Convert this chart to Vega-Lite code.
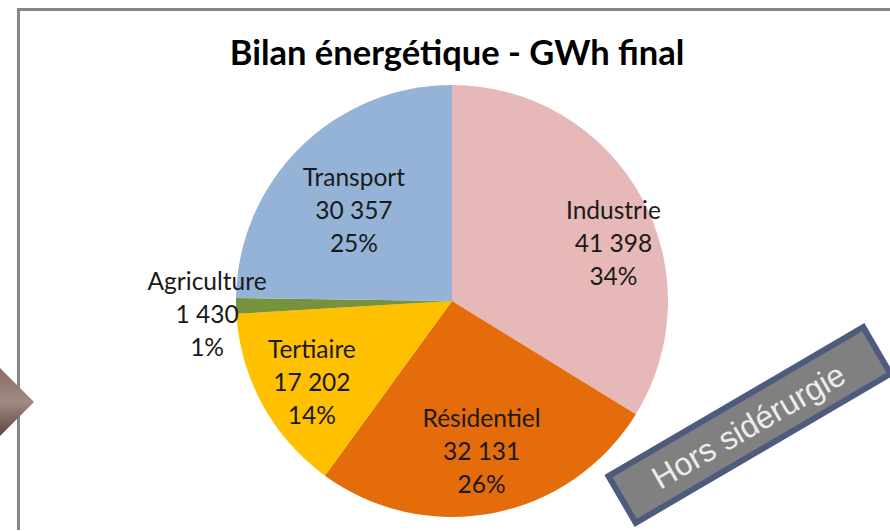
{
"$schema":"https://vega.github.io/schema/vega-lite/v6.json",
"width":876,"height":432,"autosize":"none",
"padding":{"left":14,"top":85,"right":0,"bottom":14},
"background":"white",
"view":{"stroke":null},
"config":{"view":{"stroke":null}},
"title":{"text":"Bilan énergétique - GWh final","font":"Lato","fontWeight":"bold","fontSize":34.5,"color":"#000000","anchor":"middle","frame":"group","dx":5,"offset":-66},
"data":{"name":"energy","values":[
{"rank":1,"secteur":"Industrie","gwh":41398,"label":"Industrie\n41 398\n34%"},
{"rank":2,"secteur":"Résidentiel","gwh":32131,"label":"Résidentiel\n32 131\n26%"},
{"rank":3,"secteur":"Tertiaire","gwh":17202,"label":"Tertiaire\n17 202\n14%"},
{"rank":4,"secteur":"Agriculture","gwh":1430,"label":"Agriculture\n1 430\n1%"},
{"rank":5,"secteur":"Transport","gwh":30357,"label":"Transport\n30 357\n25%"}
]},
"encoding":{
"x":{"type":"quantitative","scale":{"domain":[14,890],"zero":false,"nice":false},"axis":null},
"y":{"type":"quantitative","scale":{"domain":[517,85],"zero":false,"nice":false},"axis":null}
},
"layer":[
{"data":{"values":[{}]},"mark":{"type":"rule","color":"#868686","strokeWidth":3},"encoding":{"x":{"datum":17},"x2":{"datum":890},"y":{"datum":9.5},"y2":{"datum":9.5}}},
{"data":{"values":[{}]},"mark":{"type":"rule","color":"#868686","strokeWidth":3},"encoding":{"x":{"datum":18.5},"x2":{"datum":18.5},"y":{"datum":8},"y2":{"datum":530}}},
{"transform":[{"stack":"gwh","groupby":[],"sort":[{"field":"rank"}],"as":["t0","t1"]}],
"encoding":{"x":null,"y":null},
"layer":[
{"mark":{"type":"arc","outerRadius":216,"stroke":null},
"encoding":{"theta":{"field":"t0","type":"quantitative","scale":{"domain":[0,122518],"range":[0,6.283185307]}},"theta2":{"field":"t1"},
"color":{"field":"secteur","type":"nominal","legend":null,"scale":{"domain":["Industrie","Résidentiel","Tertiaire","Agriculture","Transport"],"range":["#e6b8b7","#e46c0a","#ffc000","#76923c","#95b3d7"]}}}},
{"transform":[{"filter":"datum.rank==1"},{"calculate":"(datum.t0+datum.t1)/2","as":"mid"}],"mark":{"type":"text","font":"Lato","fontSize":24.5,"color":"#1a1a1a","lineBreak":"\n","lineHeight":33,"radius":170,"dx":13,"dy":-6},"encoding":{"theta":{"field":"mid","type":"quantitative","scale":{"domain":[0,122518],"range":[0,6.283185307]}},"text":{"field":"label"}}},
{"transform":[{"filter":"datum.rank==2"},{"calculate":"(datum.t0+datum.t1)/2","as":"mid"}],"mark":{"type":"text","font":"Lato","fontSize":24.5,"color":"#1a1a1a","lineBreak":"\n","lineHeight":33,"radius":153,"dy":-31},"encoding":{"theta":{"field":"mid","type":"quantitative","scale":{"domain":[0,122518],"range":[0,6.283185307]}},"text":{"field":"label"}}},
{"transform":[{"filter":"datum.rank==3"},{"calculate":"(datum.t0+datum.t1)/2","as":"mid"}],"mark":{"type":"text","font":"Lato","fontSize":24.5,"color":"#1a1a1a","lineBreak":"\n","lineHeight":33,"radius":162,"dx":2,"dy":-28},"encoding":{"theta":{"field":"mid","type":"quantitative","scale":{"domain":[0,122518],"range":[0,6.283185307]}},"text":{"field":"label"}}},
{"transform":[{"filter":"datum.rank==4"},{"calculate":"(datum.t0+datum.t1)/2","as":"mid"}],"mark":{"type":"text","font":"Lato","fontSize":24.5,"color":"#1a1a1a","lineBreak":"\n","lineHeight":33,"radius":245,"dy":-24},"encoding":{"theta":{"field":"mid","type":"quantitative","scale":{"domain":[0,122518],"range":[0,6.283185307]}},"text":{"field":"label"}}},
{"transform":[{"filter":"datum.rank==5"},{"calculate":"(datum.t0+datum.t1)/2","as":"mid"}],"mark":{"type":"text","font":"Lato","fontSize":24.5,"color":"#1a1a1a","lineBreak":"\n","lineHeight":33,"radius":134,"dx":-4,"dy":-27},"encoding":{"theta":{"field":"mid","type":"quantitative","scale":{"domain":[0,122518],"range":[0,6.283185307]}},"text":{"field":"label"}}}
]},
{"data":{"values":[{}]},"mark":{"type":"rule","color":"#4f5b7e","strokeWidth":60},"encoding":{"x":{"datum":619.5},"x2":{"datum":879.5},"y":{"datum":501},"y2":{"datum":349}}},
{"data":{"values":[{}]},"mark":{"type":"rule","color":"#808080","strokeWidth":48},"encoding":{"x":{"datum":624.7},"x2":{"datum":874.3},"y":{"datum":498},"y2":{"datum":352}}},
{"data":{"values":[{}]},"mark":{"type":"text","text":"Hors sidérurgie","font":"Liberation Sans","fontSize":32,"color":"#ececec","angle":-30},"encoding":{"x":{"datum":749},"y":{"datum":427}}},
{"data":{"values":[{}]},"mark":{"type":"point","shape":"diamond","filled":true,"opacity":1,"size":4624,"fill":{"gradient":"linear","x1":0,"y1":0,"x2":0,"y2":1,"stops":[{"offset":0,"color":"#8a6c63"},{"offset":0.5,"color":"#a08a82"},{"offset":1,"color":"#5f433c"}]}},"encoding":{"x":{"datum":0},"y":{"datum":402}}}
]
}
